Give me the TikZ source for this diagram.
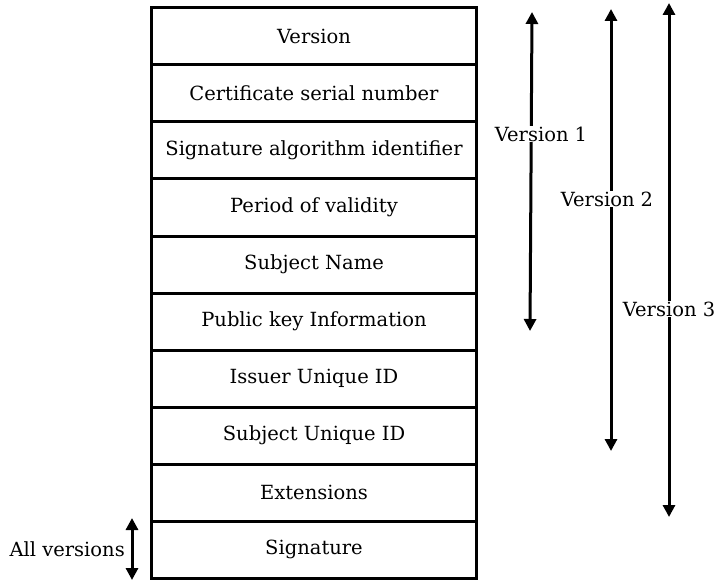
\documentclass[tikz,border=0pt]{standalone}
\usepackage{fontspec}
\setmainfont{DejaVu Serif}
\usetikzlibrary{arrows.meta}
\begin{document}
\begin{tikzpicture}[x=1pt,y=-1pt,
  field/.style={draw,line width=3pt,minimum width=325pt,minimum height=57pt,inner sep=0pt,font=\fontsize{19.5}{22}\selectfont,anchor=north west},
  varrow/.style={line width=3pt,{Triangle[width=12pt,length=12pt]}-{Triangle[width=12pt,length=12pt]}},
  lbl/.style={fill=white,inner sep=1pt,font=\fontsize{19.5}{22}\selectfont}]
\useasboundingbox (0,0) rectangle (714,580);
\node[field] (f1) at (150,6.5) {Version};
\node[field] (f2) at (150,63.5) {Certificate serial number};
\node[field] (f3) at (150,120.5) {Signature algorithm identifier};
\node[field] (f4) at (150,177.5) {Period of validity};
\node[field] (f5) at (150,234.5) {Subject Name};
\node[field] (f6) at (150,291.5) {Public key Information};
\node[field] (f7) at (150,348.5) {Issuer Unique ID};
\node[field] (f8) at (150,405.5) {Subject Unique ID};
\node[field] (f9) at (150,462.5) {Extensions};
\node[field] (f10) at (150,519.5) {Signature};
\coordinate (v1a) at (532,12);
\coordinate (v1b) at (530,331);
\coordinate (v2a) at (611,9);
\coordinate (v2b) at (611,451);
\coordinate (v3a) at (669,3);
\coordinate (v3b) at (669,517);
\coordinate (ava) at (132,518);
\coordinate (avb) at (132,580);
\draw[varrow] (v1a) -- (v1b);
\draw[varrow] (v2a) -- (v2b);
\draw[varrow] (v3a) -- (v3b);
\draw[varrow] (ava) -- (avb);
\node[lbl] (l1) at (541,134) {Version 1};
\node[lbl] (l2) at (607,199) {Version 2};
\node[lbl] (l3) at (669,309) {Version 3};
\node[lbl,anchor=east] (l4) at (126,549) {All versions};
\end{tikzpicture}
\end{document}
